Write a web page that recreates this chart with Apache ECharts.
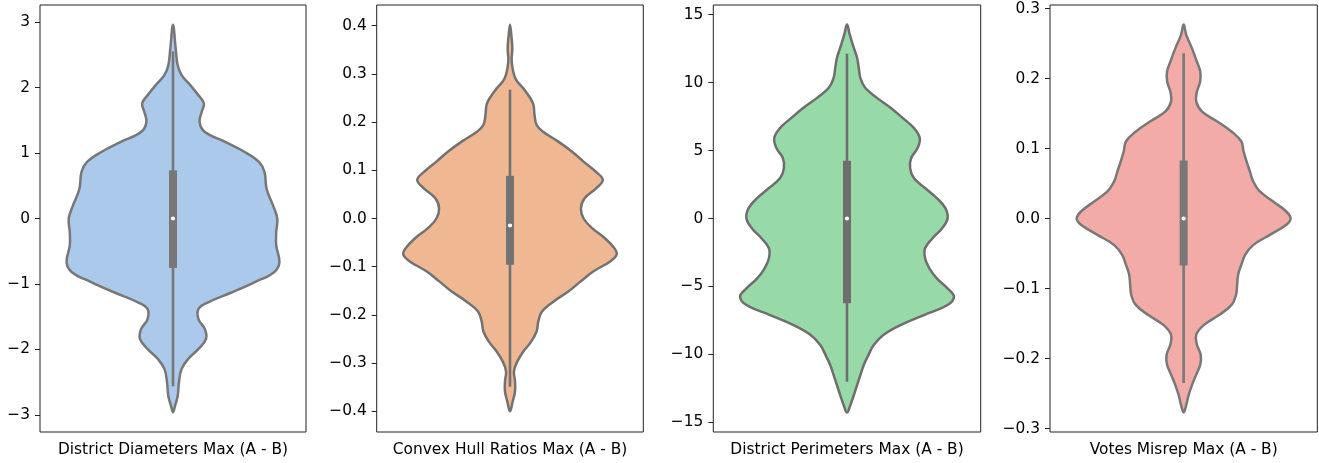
<!DOCTYPE html>
<html>
<head>
<meta charset="utf-8">
<script src="https://cdn.jsdelivr.net/npm/echarts@6/dist/echarts.min.js"></script>
<style>
  html, body { margin: 0; padding: 0; background: #fff; }
  #chart { width: 1319px; height: 463px; }
</style>
</head>
<body>
<div id="chart"></div>
<script>
// x axis names of the four panels
const panelNames = ['District Diameters Max (A - B)', 'Convex Hull Ratios Max (A - B)', 'District Perimeters Max (A - B)', 'Votes Misrep Max (A - B)'];

// violin outlines: value and relative density (1 = widest)
const diamY = [2.96, 2.60, 2.34, 2.19, 2.04, 1.88, 1.76, 1.63, 1.47, 1.32, 1.17, 1.02, 0.86, 0.71, 0.45, 0.20, 0.0, -0.21, -0.41, -0.67, -0.82, -0.97, -1.13, -1.28, -1.38, -1.54, -1.69, -1.84, -1.99, -2.15, -2.30, -2.50, -2.71, -2.86, -2.96];
const diamDensity = [0, 0.025, 0.044, 0.081, 0.16, 0.24, 0.29, 0.27, 0.25, 0.30, 0.49, 0.67, 0.81, 0.86, 0.88, 0.94, 0.98, 0.97, 0.97, 1.0, 0.95, 0.77, 0.55, 0.33, 0.24, 0.24, 0.30, 0.31, 0.24, 0.14, 0.08, 0.056, 0.044, 0.019, 0];

const hullY = [0.402, 0.381, 0.353, 0.326, 0.291, 0.270, 0.250, 0.236, 0.215, 0.194, 0.180, 0.160, 0.139, 0.118, 0.098, 0.080, 0.063, 0.042, 0.021, 0.0, -0.020, -0.041, -0.062, -0.075, -0.089, -0.110, -0.131, -0.151, -0.172, -0.193, -0.214, -0.234, -0.255, -0.276, -0.297, -0.317, -0.338, -0.359, -0.380, -0.400];
const hullDensity = [0, 0.012, 0.022, 0.016, 0.05, 0.125, 0.19, 0.22, 0.23, 0.25, 0.31, 0.45, 0.58, 0.69, 0.80, 0.87, 0.81, 0.70, 0.665, 0.69, 0.77, 0.89, 0.98, 1.0, 0.94, 0.78, 0.66, 0.55, 0.41, 0.30, 0.265, 0.25, 0.20, 0.125, 0.068, 0.037, 0.047, 0.047, 0.025, 0];

const perimY = [14.27, 13.54, 12.56, 11.82, 11.08, 10.34, 9.61, 8.87, 8.13, 7.40, 6.66, 5.92, 5.18, 4.45, 3.71, 2.97, 2.24, 1.50, 0.76, 0.0, -0.71, -1.45, -2.19, -2.92, -3.66, -4.40, -5.14, -5.75, -6.36, -7.10, -7.84, -8.57, -9.31, -10.05, -10.79, -11.52, -12.26, -13.0, -13.73, -14.27];
const perimDensity = [0, 0.025, 0.063, 0.094, 0.11, 0.125, 0.17, 0.28, 0.41, 0.52, 0.625, 0.68, 0.66, 0.60, 0.59, 0.625, 0.73, 0.84, 0.92, 0.94, 0.89, 0.80, 0.73, 0.73, 0.77, 0.84, 0.94, 1.0, 0.94, 0.72, 0.50, 0.34, 0.25, 0.20, 0.156, 0.125, 0.094, 0.063, 0.031, 0];

const votesY = [0.277, 0.262, 0.243, 0.224, 0.210, 0.196, 0.181, 0.167, 0.153, 0.139, 0.124, 0.110, 0.096, 0.081, 0.067, 0.053, 0.039, 0.024, 0.010, 0.0, -0.009, -0.023, -0.038, -0.052, -0.066, -0.080, -0.095, -0.109, -0.123, -0.138, -0.152, -0.166, -0.180, -0.195, -0.209, -0.223, -0.238, -0.252, -0.266, -0.277];
const votesDensity = [0, 0.025, 0.078, 0.124, 0.155, 0.155, 0.124, 0.118, 0.17, 0.31, 0.45, 0.54, 0.56, 0.59, 0.62, 0.65, 0.71, 0.84, 0.96, 1.0, 0.96, 0.81, 0.65, 0.575, 0.54, 0.51, 0.50, 0.49, 0.45, 0.33, 0.19, 0.118, 0.124, 0.16, 0.155, 0.118, 0.078, 0.047, 0.025, 0];

// inner box: [low whisker, q1, median, q3, high whisker]
const diamBox = [-2.56, -0.755, 0.0, 0.735, 2.55];
const hullBox = [-0.349, -0.096, -0.0145, 0.0885, 0.267];
const perimBox = [-12.01, -6.24, 0.0, 4.25, 12.11];
const votesBox = [-0.235, -0.0671, 0.0, 0.0829, 0.236];

// y axis ranges and tick labels
const diamRange = [-3.26, 3.26];
const hullRange = [-0.443, 0.443];
const perimRange = [-15.7, 15.7];
const votesRange = [-0.305, 0.305];
const diamTicks = [-3, -2, -1, 0, 1, 2, 3];
const hullTicks = [-0.4, -0.3, -0.2, -0.1, 0.0, 0.1, 0.2, 0.3, 0.4];
const perimTicks = [-15, -10, -5, 0, 5, 10, 15];
const votesTicks = [-0.3, -0.2, -0.1, 0.0, 0.1, 0.2, 0.3];

const panels = [
	{ ys: diamY, dens: diamDensity, box: diamBox, range: diamRange, ticks: diamTicks, digits: 0 },
	{ ys: hullY, dens: hullDensity, box: hullBox, range: hullRange, ticks: hullTicks, digits: 1 },
	{ ys: perimY, dens: perimDensity, box: perimBox, range: perimRange, ticks: perimTicks, digits: 0 },
	{ ys: votesY, dens: votesDensity, box: votesBox, range: votesRange, ticks: votesTicks, digits: 1 }
];

// styling
const fills = ['#abc9ea', '#efb792', '#98daa7', '#f3aba8'];
const edges = ['#777777', '#727272', '#6e6e6e', '#787878'];
const gridLefts = [40, 376.7, 713.3, 1050];
const gridWidths = [266, 266.6, 267.4, 267.3];
const font = 'DejaVu Sans';
const fontSize = 15.4;

function renderViolin(api, p, i) {
	const band = api.size([1, 0])[0];
	const half = band * 0.4;
	const maxD = Math.max.apply(null, p.dens);
	const cx = api.coord([0, 0])[0];
	const yOf = (v) => api.coord([0, v])[1];
	const pts = [];
	// right side top to bottom
	p.ys.forEach((v, k) => {
		pts.push([cx + p.dens[k] / maxD * half, yOf(v)]);
	});
	// left side bottom to top, without the tips
	for (let k = p.ys.length - 2; k > 0; k--) {
		pts.push([cx - p.dens[k] / maxD * half, yOf(p.ys[k])]);
	}
	const b = p.box;
	return {
		type: 'group',
		children: [
			{ type: 'polygon', shape: { points: pts, smooth: 0.4 }, style: { fill: fills[i], stroke: edges[i], lineWidth: 2.5 } },
			{ type: 'line', shape: { x1: cx, y1: yOf(b[0]), x2: cx, y2: yOf(b[4]) }, style: { stroke: edges[i], lineWidth: 2.6 } },
			{ type: 'rect', shape: { x: cx - 4, y: yOf(b[3]), width: 8, height: yOf(b[1]) - yOf(b[3]) }, style: { fill: edges[i] } },
			{ type: 'circle', shape: { cx: cx, cy: yOf(b[2]), r: 2.1 }, style: { fill: '#fff' } }
		]
	};
}

const fmt = (digits) => (v) => Number(v).toFixed(digits).replace('-', '\u2212');

const option = {
	animation: false,
	grid: panels.map((p, i) => ({
		left: gridLefts[i],
		top: 5,
		width: gridWidths[i],
		height: 427,
		show: true,
		borderColor: '#222',
		borderWidth: 1,
		backgroundColor: 'transparent'
	})),
	xAxis: panels.map((p, i) => ({
		type: 'category',
		gridIndex: i,
		data: [panelNames[i]],
		axisLine: { show: false },
		axisTick: { show: true, alignWithLabel: true, length: 5, lineStyle: { color: '#222', width: 1 } },
		axisLabel: { margin: 10, color: '#000', fontFamily: font, fontSize: fontSize },
		splitLine: { show: false }
	})),
	yAxis: panels.map((p, i) => ({
		type: 'value',
		gridIndex: i,
		min: p.range[0],
		max: p.range[1],
		axisLine: { show: false },
		axisTick: { show: true, length: 5, customValues: p.ticks, lineStyle: { color: '#222', width: 1 } },
		axisLabel: { margin: 10, color: '#000', fontFamily: font, fontSize: fontSize, customValues: p.ticks, formatter: fmt(p.digits) },
		splitLine: { show: false }
	})),
	series: panels.map((p, i) => ({
		type: 'custom',
		coordinateSystem: 'cartesian2d',
		xAxisIndex: i,
		yAxisIndex: i,
		silent: true,
		data: [[0, p.box[2]]],
		renderItem: (params, api) => renderViolin(api, p, i)
	}))
};

const myChart = echarts.init(document.getElementById('chart'));
myChart.setOption(option);
</script>
</body>
</html>
